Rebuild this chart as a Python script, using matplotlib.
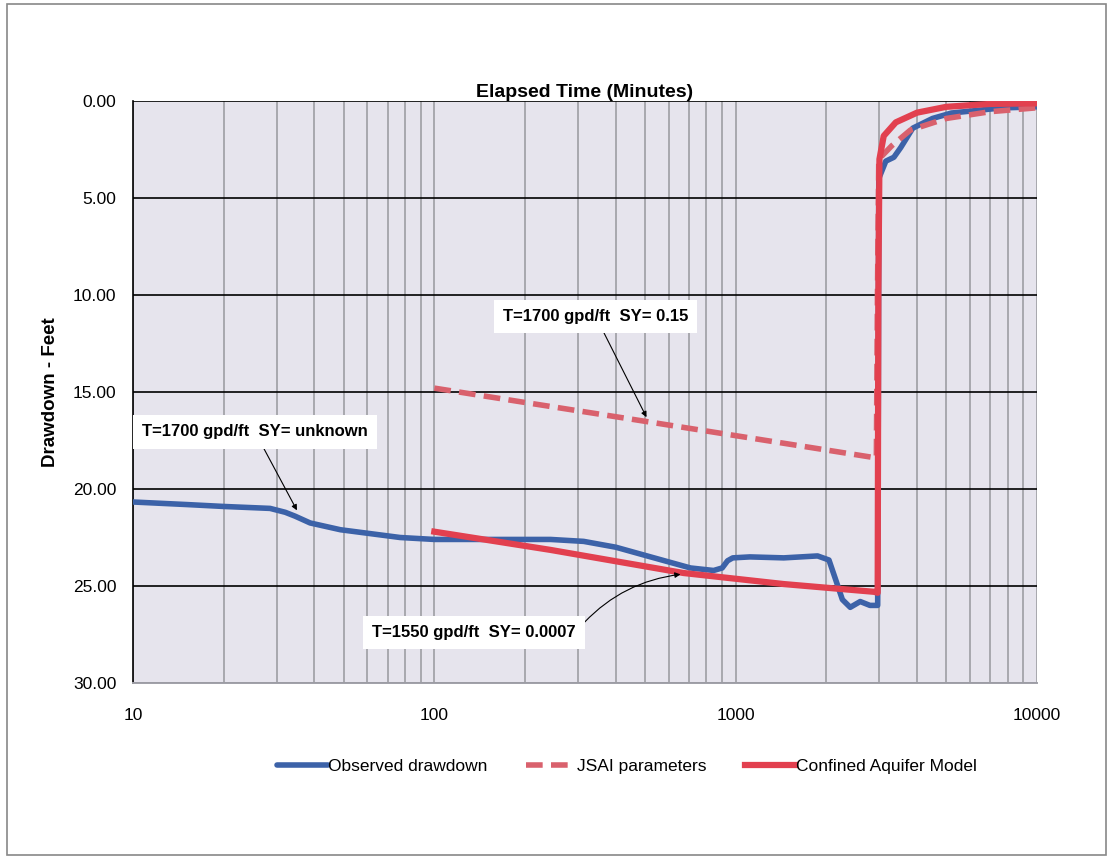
import matplotlib
matplotlib.use("Agg")
import matplotlib.pyplot as plt
from matplotlib.patches import Rectangle
from matplotlib.ticker import FixedLocator, LogLocator, NullFormatter

plt.rcParams['font.family'] = ['Liberation Sans', 'DejaVu Sans']

# Observed drawdown
obs_t = [10, 15, 20, 28.5, 32, 34.5, 38.7, 48.8, 77, 100, 150, 243, 313, 400, 522, 708, 845,
         902, 940, 978, 1115, 1444, 1870, 2040, 2150, 2260, 2400, 2590, 2790, 2960,
         2975, 2985, 3150, 3350, 3530, 3870, 4500, 5200, 7600, 10000]
obs_d = [20.67, 20.8, 20.9, 21.0, 21.2, 21.4, 21.75, 22.1, 22.5, 22.6, 22.6, 22.6, 22.7, 23.0, 23.5, 24.07, 24.2,
         24.07, 23.7, 23.55, 23.5, 23.55, 23.45, 23.66, 24.7, 25.7, 26.1, 25.8, 26.0, 26.0,
         15.0, 4.0, 3.1, 2.9, 2.4, 1.4, 0.9, 0.62, 0.36, 0.3]

# JSAI parameters (dashed)
jsai_t = [100, 200, 500, 1000, 2000, 2930, 2955, 2985, 3300, 3800, 5000, 7000, 10000]
jsai_d = [14.8, 15.54, 16.51, 17.25, 17.99, 18.4, 10.0, 3.0, 2.3, 1.5, 0.9, 0.55, 0.35]

# Confined aquifer model (solid red)
conf_t = [100, 243, 671, 1444, 2880, 2960, 2975, 3000, 3100, 3400, 4000, 5000, 7000, 10000]
conf_d = [22.2, 23.14, 24.33, 24.9, 25.3, 25.35, 10.0, 3.0, 1.8, 1.1, 0.6, 0.3, 0.15, 0.12]

y_ticks = [0, 5, 10, 15, 20, 25, 30]
x_ticks = [10, 100, 1000, 10000]

blue = '#3C62A8'
red = '#E2404F'
red_dash = '#D9616D'

fig = plt.figure(figsize=(11.12, 8.58), dpi=100)
ax = fig.add_axes([133/1112, 1-683/858, (1037-133)/1112, (683-101)/858])
ax.set_facecolor('#E6E4ED')

ax.set_xscale('log')
ax.set_xlim(10, 10000)
ax.set_ylim(30, 0)

ax.xaxis.set_major_locator(FixedLocator(x_ticks))
ax.xaxis.set_minor_locator(LogLocator(base=10, subs=range(2, 10)))
ax.xaxis.set_minor_formatter(NullFormatter())
ax.set_xticklabels([str(v) for v in x_ticks])
ax.set_yticks(y_ticks)
ax.set_yticklabels([f"{v:.2f}" for v in y_ticks])

ax.grid(True, which='both', axis='x', color='#A8A8AE', linewidth=1.4)
ax.grid(True, which='major', axis='y', color='black', linewidth=1.2)
ax.set_axisbelow(True)

ax.tick_params(axis='both', which='both', length=0, labelsize=12.5, colors='black')
ax.tick_params(axis='x', pad=18)
ax.tick_params(axis='y', pad=12)

for s in ['top', 'right']:
    ax.spines[s].set_visible(False)
ax.spines['left'].set_color('black')
ax.spines['left'].set_linewidth(1.2)
ax.spines['bottom'].set_color('#A0A0A8')
ax.spines['bottom'].set_linewidth(1.4)

ax.set_title('Elapsed Time (Minutes)', fontsize=14, fontweight='bold', pad=3)
ax.set_ylabel('Drawdown - Feet', fontsize=13.5, fontweight='bold', labelpad=10)

l1, = ax.plot(obs_t, obs_d, color=blue, linewidth=4, solid_capstyle='round', solid_joinstyle='round', label='Observed drawdown', zorder=3)
l2, = ax.plot(jsai_t, jsai_d, color=red_dash, linewidth=4, linestyle=(0, (3, 1.5)), label='JSAI parameters', zorder=4)
l3, = ax.plot(conf_t, conf_d, color=red, linewidth=4.5, solid_joinstyle='round', label='Confined Aquifer Model', zorder=5)

bbox = dict(boxstyle='square,pad=0.55', facecolor='white', edgecolor='none')
arrow = dict(arrowstyle='-|>', color='black', linewidth=0.8, mutation_scale=8, shrinkA=0, shrinkB=0)

ax.annotate('T=1700 gpd/ft  SY= 0.15', xy=(506, 16.3), xytext=(343, 11.1),
            fontsize=12, fontweight='bold', ha='center', va='center', bbox=bbox,
            arrowprops=arrow, zorder=6)
ax.annotate('T=1700 gpd/ft  SY= unknown', xy=(35, 21.1), xytext=(25.4, 17.06),
            fontsize=12, fontweight='bold', ha='center', va='center', bbox=bbox,
            arrowprops=arrow, zorder=6)
arrow3 = dict(arrow, connectionstyle='arc3,rad=-0.2', relpos=(1.0, 0.5))
ax.annotate('T=1550 gpd/ft  SY= 0.0007', xy=(656, 24.4), xytext=(135, 27.4),
            fontsize=12, fontweight='bold', ha='center', va='center', bbox=bbox,
            arrowprops=arrow3, zorder=6)

fig.legend(handles=[l1, l2, l3], loc='center', bbox_to_anchor=(0.564, 1-766/858),
           ncol=3, frameon=False, fontsize=12.5, handlelength=2.9, handletextpad=0.05,
           columnspacing=2.2)

fig.patches.append(Rectangle((7/1112, 3/858), 1099/1112, 851/858, transform=fig.transFigure,
                             fill=False, edgecolor='#888888', linewidth=1.2))

fig.savefig('out.png', dpi=100)
